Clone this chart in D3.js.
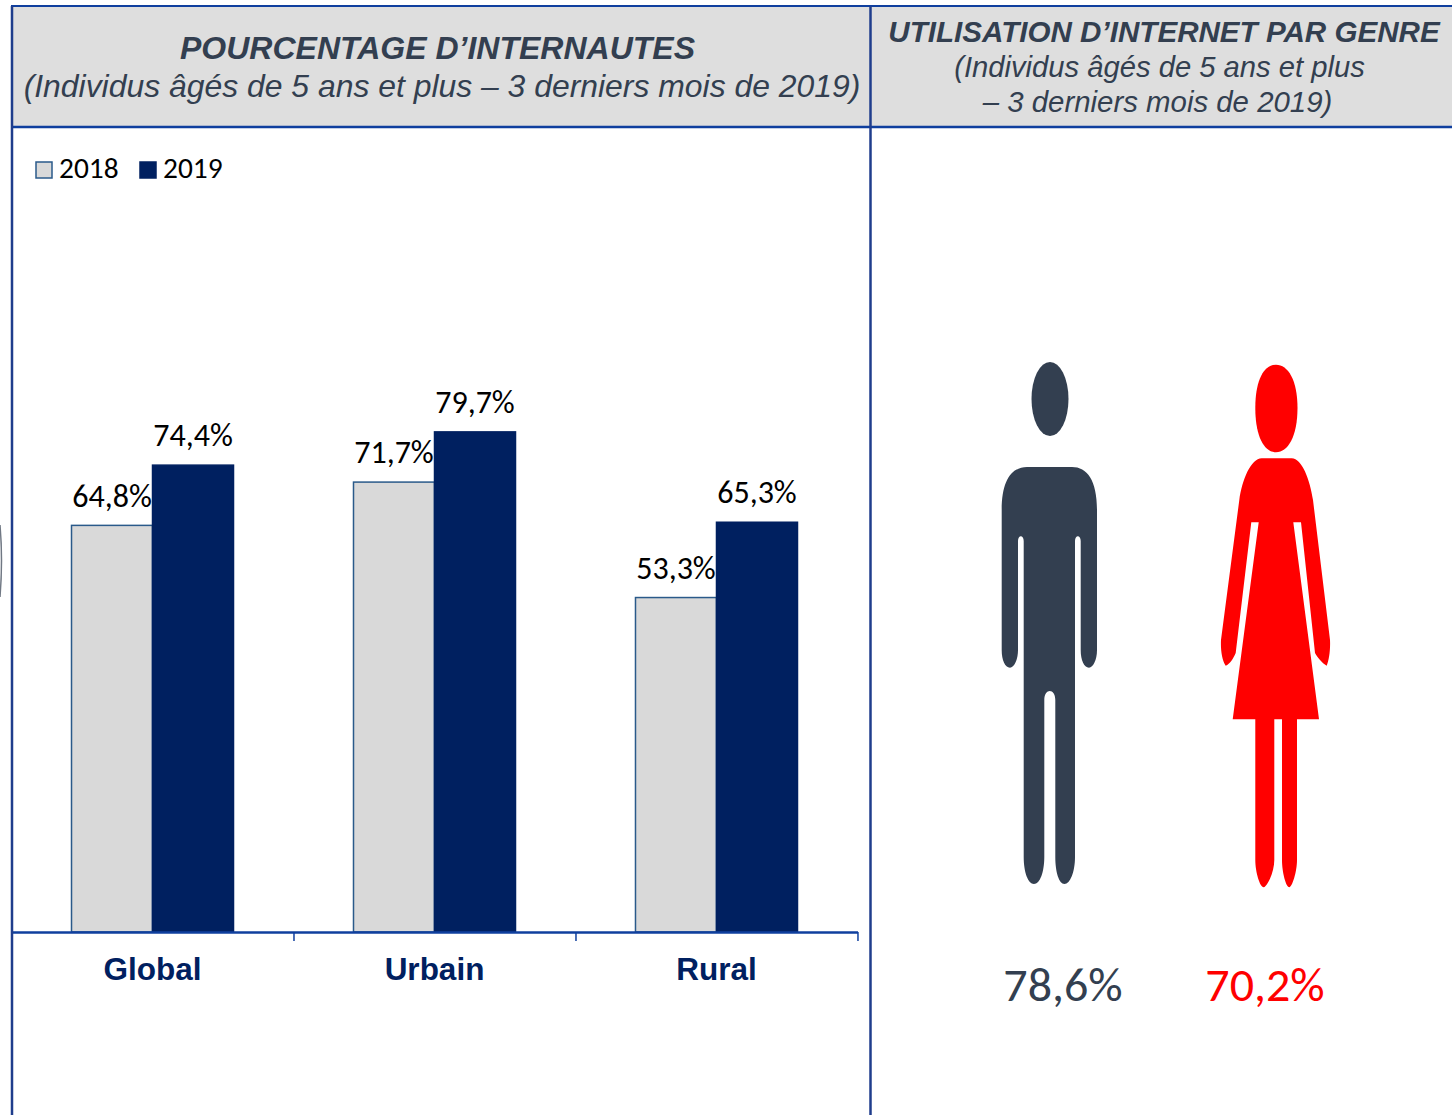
<!DOCTYPE html>
<html><head><meta charset="utf-8">
<script src="https://cdn.jsdelivr.net/npm/d3@7"></script>
<style>html,body{margin:0;padding:0;background:#fff;overflow:hidden}svg{display:block}</style>
</head><body>
<svg id="c" width="1452" height="1115"></svg>
<script>
const categories = ["Global","Urbain","Rural"];
const years = ["2018","2019"];
const values2018 = [64.8,71.7,53.3];
const values2019 = [74.4,79.7,65.3];
const genderLabels = ["78,6%","70,2%"];
const titleLeft = ["POURCENTAGE D’INTERNAUTES","(Individus âgés de 5 ans et plus – 3 derniers mois de 2019)"];
const titleRight = ["UTILISATION D’INTERNET PAR GENRE","(Individus âgés de 5 ans et plus","– 3 derniers mois de 2019)"];

const BORDER="#0F3F9E", VLINE="#1F3D8C", NAVY="#002060", GREY="#D9D9D9", SLATE="#333F50", RED="#FF0000";
const CAL="Carlito, Lato, 'Open Sans', sans-serif", ARIAL="'Liberation Sans', Arial, sans-serif";
const svg=d3.select("#c");

// header bands
svg.append("rect").attr("x",12).attr("y",6).attr("width",1440).attr("height",121).attr("fill","#DEDEDE");

// chart
const x=d3.scaleBand().domain(categories).range([11.5,857.5]).paddingInner(0.4255).paddingOuter(0.2128);
const xs=d3.scaleBand().domain(years).range([0,x.bandwidth()]);
const y=d3.scaleLinear().domain([0,100]).range([932,304.5]);
const rows=categories.map((c,i)=>({c,v:[values2018[i],values2019[i]]}));
const g=svg.selectAll("g.cat").data(rows).join("g").attr("class","cat").attr("transform",d=>`translate(${x(d.c)},0)`);
g.selectAll("rect").data(d=>d.v.map((v,j)=>({v,j}))).join("rect")
  .attr("x",d=>xs(years[d.j])).attr("y",d=>y(d.v)).attr("width",xs.bandwidth()).attr("height",d=>y(0)-y(d.v))
  .attr("fill",d=>d.j?NAVY:GREY).attr("stroke",d=>d.j?NAVY:"#2A5A8A").attr("stroke-width",1.5);
g.selectAll("text").data(d=>d.v.map((v,j)=>({v,j}))).join("text")
  .attr("x",d=>xs(years[d.j])+xs.bandwidth()/2).attr("y",d=>y(d.v)-30)
  .attr("dy","0.35em").attr("text-anchor","middle").attr("font-family",CAL).attr("font-size",32).attr("fill","#000")
  .text(d=>d.v.toFixed(1).replace(".",",")+"%");

// axis
const axis=d3.axisBottom(x).tickSize(0).tickPadding(26);
const ax=svg.append("g").attr("transform","translate(0,932)").call(axis);
ax.select(".domain").attr("stroke",BORDER).attr("stroke-width",2.5);
ax.selectAll("text").attr("font-family",ARIAL).attr("font-weight","bold").attr("font-size",31.5).attr("fill",NAVY);
svg.append("g").selectAll("line").data([1,2,3]).join("line")
  .attr("x1",i=>x.range()[0]+x.step()*i+.5).attr("x2",i=>x.range()[0]+x.step()*i+.5)
  .attr("y1",932).attr("y2",941).attr("stroke",BORDER).attr("stroke-width",1.5);

// legend
const lg=svg.append("g").selectAll("g").data(years).join("g").attr("transform",(d,i)=>`translate(${[36,140][i]},162)`);
lg.append("rect").attr("width",16).attr("height",16).attr("fill",(d,i)=>i?NAVY:GREY).attr("stroke",(d,i)=>i?NAVY:"#2A5A8A").attr("stroke-width",1.5);
lg.append("text").attr("x",23).attr("y",16).attr("font-family",CAL).attr("font-size",29.4).attr("fill","#000").text(d=>d);

// titles
const tt=(t,cx,yy,size,weight)=>svg.append("text").attr("x",cx).attr("y",yy).attr("text-anchor","middle")
  .attr("font-family",ARIAL).attr("font-style","italic").attr("font-weight",weight).attr("font-size",size).attr("fill",SLATE).text(t);
tt(titleLeft[0],437.5,59,32,"bold");
tt(titleLeft[1],442,97,31.9,"normal");
tt(titleRight[0],1164,42,29.6,"bold");
tt(titleRight[1],1159.5,77,29.2,"normal");
tt(titleRight[2],1157.5,112,29.4,"normal");

// pictograms
const man="M1001.7 510C1001.7 480 1012 467 1027 467H1072C1087 467 1097 480 1097 510V650C1097 660 1093 667.7 1089 667.7C1084 667.7 1080.7 660 1080.7 650V541C1080.7 534.5 1075 534.5 1075 541V857C1075 872 1070 884 1064.5 884C1059 884 1055.3 872 1055.3 857V700C1055.3 688 1044.3 688 1044.3 700V857C1044.3 872 1040 884 1034 884C1028 884 1023.7 872 1023.7 857V541C1023.7 534.5 1018 534.5 1018 541V650C1018 660 1014 667.7 1010 667.7C1005 667.7 1001.7 660 1001.7 650Z";
const woman="M1261.7 458.3H1291.7C1302 458.3 1310 480 1313 500L1330 640C1330.5 650 1329 660 1326.7 665.7C1322 663 1317 657 1315 653L1301 522.3H1293.3L1319 719.3H1297V860C1297 872 1292 887.3 1289.3 887.3C1286 887.3 1282 872 1282 860V719.3H1274.3V860C1274.3 872 1267 887.3 1263.7 887.3C1260 887.3 1255.3 872 1255.3 860V719.3H1232.7L1258.7 522.3H1251.3L1235.7 653C1233 659 1230 664 1225.7 665.7C1222 660 1220.5 650 1221 640L1239.3 500C1242 480 1251 458.3 1261.7 458.3Z";
const womanHead="M1276 364.7C1288 364.7 1297.5 380 1297.5 408C1297.5 436 1288 452.3 1276 452.3C1264 452.3 1255.3 436 1255.3 408C1255.3 380 1264 364.7 1276 364.7Z";
svg.append("ellipse").attr("cx",1050).attr("cy",399).attr("rx",18.5).attr("ry",37).attr("fill",SLATE);
svg.append("path").attr("d",man).attr("fill",SLATE);
svg.append("path").attr("d",womanHead).attr("fill",RED);
svg.append("path").attr("d",woman).attr("fill",RED);
svg.selectAll("text.g").data(genderLabels).join("text").attr("class","g")
  .attr("x",(d,i)=>[1063,1265][i]).attr("y",1001).attr("text-anchor","middle").attr("font-family",CAL).attr("font-size",48)
  .attr("fill",(d,i)=>i?RED:SLATE).text(d=>d);

// borders
const bl=(a,b,c,d,col,w)=>svg.append("line").attr("x1",a).attr("y1",b).attr("x2",c).attr("y2",d).attr("stroke",col).attr("stroke-width",w);
bl(11,6,1452,6,BORDER,2); bl(12,127,1452,127,BORDER,2.5);
bl(12,6,12,1115,VLINE,2.5); bl(870.5,6,870.5,1115,VLINE,2.5);
svg.append("path").attr("d","M0 525Q3 560 0 597").attr("fill","none").attr("stroke","#333F50").attr("stroke-width",1.5).attr("opacity",0.7);
</script>
</body></html>
